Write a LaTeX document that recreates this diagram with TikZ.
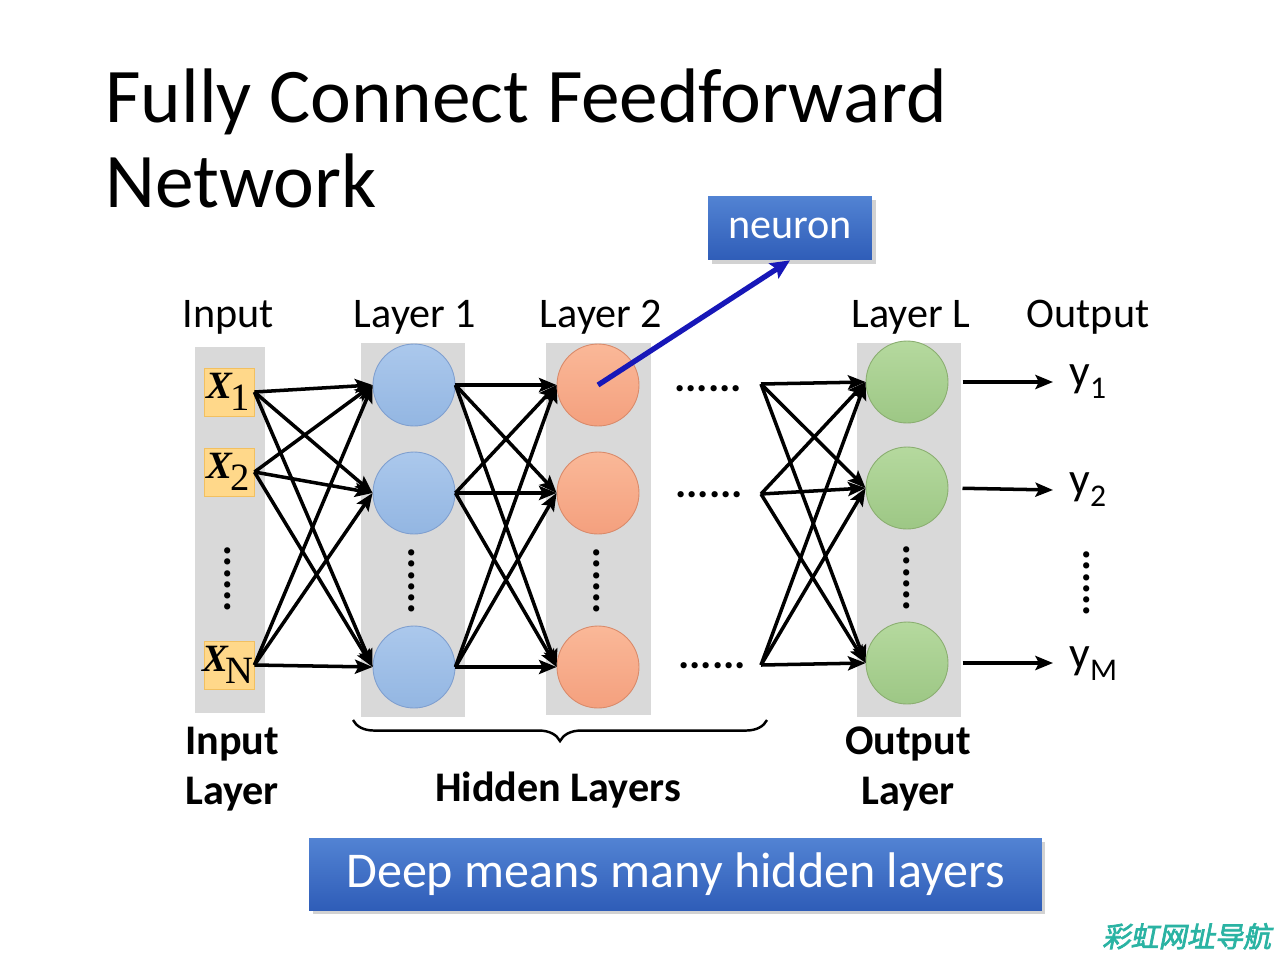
\documentclass[tikz,border=0pt]{standalone}
\usepackage{fontspec}
\setmainfont{Carlito}
\newfontfamily\tnr{Liberation Serif}
\newfontfamily\cjk[FakeSlant=0.2,FakeBold=2.5]{Noto Sans CJK SC}
\usetikzlibrary{arrows.meta,decorations.pathreplacing,shadows}
\definecolor{colgray}{HTML}{D9D9D9}
\definecolor{bluetop}{HTML}{ABC8EC}
\definecolor{bluebot}{HTML}{93B6E2}
\definecolor{blueline}{HTML}{7F9FCF}
\definecolor{ortop}{HTML}{FAB898}
\definecolor{orbot}{HTML}{F4A07E}
\definecolor{orline}{HTML}{D98A6A}
\definecolor{grtop}{HTML}{B5D99E}
\definecolor{grbot}{HTML}{9DC785}
\definecolor{grline}{HTML}{8AAE70}
\definecolor{yel}{HTML}{FFD88A}
\definecolor{yelline}{HTML}{F2C060}
\definecolor{boxtop}{HTML}{5283D3}
\definecolor{boxbot}{HTML}{2F5DB8}
\definecolor{arrowblue}{HTML}{1717B8}
\definecolor{teal}{HTML}{2AB3A3}
\newcommand{\lbl}{\fontsize{24}{29}\selectfont}
\begin{document}
\begin{tikzpicture}[x=0.02cm,y=-0.02cm,
  neu/.style={circle,minimum size=1.64cm,inner sep=0pt,line width=0.5pt},
  bneu/.style={neu,draw=blueline,top color=bluetop,bottom color=bluebot},
  oneu/.style={neu,draw=orline,top color=ortop,bottom color=orbot},
  gneu/.style={neu,draw=grline,top color=grtop,bottom color=grbot},
  inbox/.style={rectangle,fill=yel,draw=yelline,line width=0.5pt,minimum width=1cm,minimum height=0.96cm,inner sep=0pt,font=\tnr\fontsize{22}{24}\selectfont},
  arr/.style={-{Stealth[length=10pt,width=8pt,inset=2pt]},line width=2pt,black},
  bluebox/.style={rectangle,top color=boxtop,bottom color=boxbot,draw=none,text=white,drop shadow={opacity=0.35,shadow xshift=2pt,shadow yshift=-2pt}},
  toplbl/.style={anchor=base,font=\lbl},
  boldlbl/.style={anchor=base,font=\lbl\bfseries,align=center},
  hdots/.style={anchor=base,font=\lbl\bfseries,inner sep=0pt},
  vdots/.style={anchor=base,font=\lbl\bfseries,inner sep=0pt,rotate=90},
  ylbl/.style={anchor=base west,font=\fontsize{26}{30}\selectfont,inner sep=0pt}
]
\useasboundingbox[fill=white] (0,0) rectangle (1280,960);

% title
\node[anchor=base west,inner sep=0pt,font=\fontsize{44}{52}\selectfont] (t1) at (105,122) {Fully Connect Feedforward};
\node[anchor=base west,inner sep=0pt,font=\fontsize{44}{52}\selectfont] (t2) at (105,207) {Network};

% columns
\fill[colgray] (195,347) rectangle (265,713);
\fill[colgray] (361,343) rectangle (465,717);
\fill[colgray] (546,343) rectangle (651,715);
\fill[colgray] (857,343) rectangle (961,717);

% top labels
\node[toplbl] (lin) at (228,327) {Input};
\node[toplbl] (l1) at (415,327) {Layer 1};
\node[toplbl] (l2) at (601,327) {Layer 2};
\node[toplbl] (lL) at (911,327) {Layer L};
\node[toplbl] (lout) at (1088,327) {Output};

% inputs
\node[inbox] (x1) at (229,392) {\kern-1pt\textbf{\textit{X}}\kern-1pt\raisebox{-0.3em}{1}};
\node[inbox] (x2) at (229,472) {\kern-1pt\textbf{\textit{X}}\kern-1pt\raisebox{-0.3em}{2}};
\node[inbox] (xn) at (229,665) {\kern-1pt\textbf{\textit{X}}\kern-2pt\raisebox{-0.3em}{N}};
\node[vdots] (vd0) at (230,579) {......};

% layer 1
\node[bneu] (a1) at (414,385) {};
\node[bneu] (a2) at (414,493) {};
\node[bneu] (a3) at (414,667) {};
\node[vdots] (vd1) at (414,581) {......};

% layer 2
\node[oneu] (b1) at (598,385) {};
\node[oneu] (b2) at (598,493) {};
\node[oneu] (b3) at (598,667) {};
\node[vdots] (vd2) at (599,581) {......};

% layer L
\node[gneu] (c1) at (907,382) {};
\node[gneu] (c2) at (907,488) {};
\node[gneu] (c3) at (907,663) {};
\node[vdots] (vd3) at (909,578) {......};

% horizontal dots
\node[hdots] (hd1) at (708,391) {......};
\node[hdots] (hd2) at (709,497) {......};
\node[hdots] (hd3) at (712,668) {......};
\coordinate (d1) at (761,384);
\coordinate (d2) at (761,494);
\coordinate (d3) at (761,665);

% connections
\foreach \a in {x1,x2,xn} \foreach \b in {a1,a2,a3} \draw[arr] (\a.east) -- (\b.west);
\foreach \a in {a1,a2,a3} \foreach \b in {b1,b2,b3} \draw[arr] (\a.east) -- (\b.west);
\foreach \a in {d1,d2,d3} \foreach \b in {c1,c2,c3} \draw[arr] (\a) -- (\b.west);

% outputs
\coordinate (o1) at (1053,382);
\coordinate (o2) at (1053,490);
\coordinate (o3) at (1053,663);
\draw[arr,shorten <=8pt] (c1.east) -- (o1);
\draw[arr,shorten <=8pt] (c2.east) -- (o2);
\draw[arr,shorten <=8pt] (c3.east) -- (o3);
\node[ylbl] (y1) at (1069,386) {y\raisebox{-7pt}{\fontsize{18}{20}\selectfont 1}};
\node[ylbl] (y2) at (1069,494) {y\raisebox{-7pt}{\fontsize{18}{20}\selectfont 2}};
\node[ylbl] (ym) at (1069,668) {y\raisebox{-7pt}{\fontsize{18}{20}\selectfont M}};
\node[vdots] (vd4) at (1089,583) {......};

% neuron
\node[bluebox,minimum width=3.28cm,minimum height=1.28cm,font=\fontsize{24}{28}\selectfont] (neuron) at (790,228) {neuron};
\draw[-{Stealth[length=11pt,width=10pt,inset=2pt]},line width=3pt,arrowblue] (b1.center) -- (neuron.south);

% brace
\draw[line width=1.4pt,decorate,decoration={brace,amplitude=12pt}] (767,720) -- (353,720);

% bottom labels
\node[boldlbl] (il1) at (232,754) {Input};
\node[boldlbl] (il2) at (232,804) {Layer};
\node[boldlbl] (hl) at (558,801) {Hidden Layers};
\node[boldlbl] (ol1) at (908,754) {Output};
\node[boldlbl] (ol2) at (908,804) {Layer};

% bottom box
\node[bluebox,minimum width=14.66cm,minimum height=1.44cm,font=\fontsize{28.5}{33}\selectfont] (deep) at (675.5,874) {Deep means many hidden layers};

% watermark
\node[anchor=base west,inner sep=0pt,text=teal,font=\cjk\fontsize{16}{19}\selectfont] (wm) at (1102,947) {彩虹网址导航};
\end{tikzpicture}
\end{document}
